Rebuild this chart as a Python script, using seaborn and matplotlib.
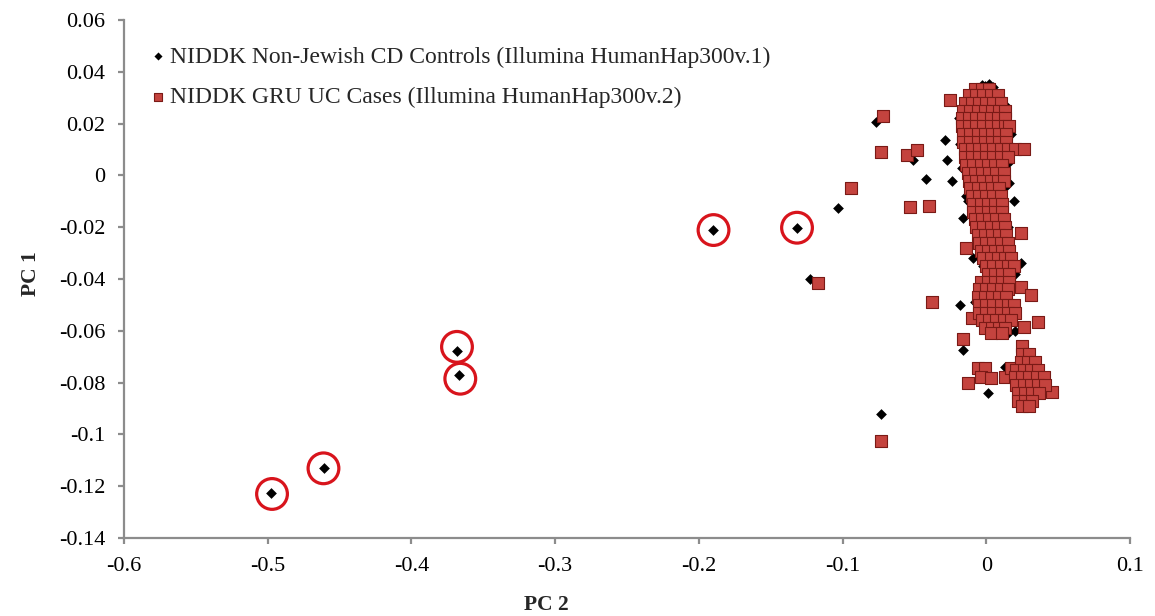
import matplotlib
matplotlib.use("Agg")
import matplotlib.pyplot as plt
import seaborn as sns
import pandas as pd

# ---------------- data ----------------
# Controls (black diamonds): PC2 (x), PC1 (y)
controls_pc2 = [-0.498, -0.461, -0.368, -0.367, -0.190, -0.132, -0.077, -0.103,
                -0.123, -0.0735, -0.0284, -0.051, -0.027, -0.042, -0.0236,
                -0.0125, -0.016, -0.009, -0.018, -0.0077, -0.016, 0.0014,
                0.013, 0.022, 0.015, 0.019, 0.012, 0.024,
                -0.003, 0.002, 0.005, -0.001, 0.010, 0.013, -0.017, -0.019,
                -0.018, -0.017, 0.017, 0.016, 0.016, 0.012, 0.010, 0.015,
                0.013, 0.019, 0.020, 0.005, 0.008, -0.002, 0.008, 0.020,
                -0.014, 0.003]
controls_pc1 = [-0.1225, -0.1131, -0.0677, -0.0769, -0.0211, -0.0202, 0.0208, -0.0127,
                -0.0400, -0.0920, 0.0135, 0.0058, 0.0058, -0.0012, -0.0023,
                -0.0097, -0.0166, -0.0320, -0.0500, -0.0490, -0.0675, -0.0840,
                -0.0740, -0.0726, -0.0610, -0.0097, -0.0046, -0.0340,
                0.0350, 0.0352, 0.0340, 0.0345, 0.0300, 0.0270, 0.0250, 0.0220,
                0.0120, 0.0030, 0.0160, 0.0050, -0.0030, -0.0050, -0.0080, -0.0200,
                -0.0260, -0.0360, -0.0380, -0.0240, -0.0300, -0.0350, -0.0600, -0.0600,
                -0.0080, -0.0270]

# Cases (red squares): isolated points
cases_pc2_outer = [-0.072, -0.073, -0.094, -0.117, -0.073, -0.025, -0.055, -0.0485,
                   -0.053, -0.040, -0.014, -0.038, 0.024, -0.0097, -0.016, 0.026,
                   0.036, 0.024, 0.031, -0.013, -0.006, -0.001, -0.004, 0.003,
                   0.013, 0.046, 0.017]
cases_pc1_outer = [0.0230, 0.0089, -0.0050, -0.0417, -0.1027, 0.0290, 0.0080, 0.0097,
                   -0.0123, -0.0120, -0.0280, -0.0487, -0.0224, -0.0552, -0.0630, -0.0587,
                   -0.0567, -0.0430, -0.0460, -0.0800, -0.0745, -0.0745, -0.0780, -0.0784,
                   -0.0780, -0.0838, -0.0745]

# Cases: dense cluster, row by row (PC1 value, PC2 values in that row)
case_cluster_rows = [
    (0.0335, [-0.008, -0.003, 0.002]),
    (0.031, [-0.012, -0.007, -0.002, 0.003, 0.008]),
    (0.028, [-0.015, -0.010, -0.005, 0.000, 0.005, 0.010]),
    (0.025, [-0.016, -0.011, -0.006, -0.001, 0.004, 0.009, 0.013]),
    (0.022, [-0.017, -0.012, -0.007, -0.002, 0.003, 0.008, 0.013]),
    (0.019, [-0.017, -0.012, -0.007, -0.002, 0.003, 0.008, 0.013, 0.016]),
    (0.016, [-0.016, -0.011, -0.006, -0.001, 0.004, 0.009, 0.014]),
    (0.013, [-0.016, -0.011, -0.006, -0.001, 0.004, 0.009, 0.014]),
    (0.010, [-0.015, -0.010, -0.005, 0.000, 0.005, 0.010, 0.015, 0.020, 0.026]),
    (0.007, [-0.015, -0.010, -0.005, 0.000, 0.005, 0.010, 0.015]),
    (0.004, [-0.014, -0.009, -0.004, 0.001, 0.006, 0.011]),
    (0.001, [-0.013, -0.008, -0.003, 0.002, 0.007, 0.012]),
    (-0.002, [-0.012, -0.007, -0.002, 0.003, 0.008, 0.012]),
    (-0.005, [-0.011, -0.006, -0.001, 0.004, 0.009]),
    (-0.008, [-0.010, -0.005, 0.000, 0.005, 0.010]),
    (-0.011, [-0.009, -0.004, 0.001, 0.006, 0.011]),
    (-0.014, [-0.009, -0.004, 0.001, 0.006, 0.011]),
    (-0.017, [-0.008, -0.003, 0.002, 0.007, 0.012]),
    (-0.020, [-0.007, -0.002, 0.003, 0.008, 0.013]),
    (-0.023, [-0.006, -0.001, 0.004, 0.009, 0.014]),
    (-0.026, [-0.005, 0.000, 0.005, 0.010, 0.015]),
    (-0.029, [-0.004, 0.001, 0.006, 0.011, 0.016]),
    (-0.032, [-0.002, 0.003, 0.008, 0.013, 0.017]),
    (-0.035, [0.000, 0.005, 0.010, 0.015, 0.019]),
    (-0.038, [0.001, 0.006, 0.011, 0.016]),
    (-0.041, [-0.004, 0.001, 0.006, 0.011, 0.016]),
    (-0.044, [-0.005, 0.000, 0.005, 0.010, 0.015]),
    (-0.047, [-0.006, -0.001, 0.004, 0.009, 0.014]),
    (-0.050, [-0.005, 0.000, 0.005, 0.010, 0.015, 0.019]),
    (-0.053, [-0.005, 0.000, 0.005, 0.010, 0.015, 0.020]),
    (-0.056, [-0.003, 0.002, 0.007, 0.012, 0.017]),
    (-0.059, [-0.001, 0.004, 0.009, 0.013]),
    (-0.061, [0.003, 0.011]),
    (-0.066, [0.025]),
    (-0.069, [0.025, 0.030]),
    (-0.072, [0.024, 0.029, 0.034]),
    (-0.075, [0.021, 0.026, 0.031, 0.036]),
    (-0.078, [0.020, 0.025, 0.030, 0.035, 0.040]),
    (-0.081, [0.021, 0.026, 0.031, 0.036, 0.041]),
    (-0.084, [0.022, 0.027, 0.032, 0.037]),
    (-0.087, [0.022, 0.027, 0.032]),
    (-0.089, [0.025, 0.030]),
]

# Red rings highlighting outliers
ring_pc2 = [-0.4970, -0.4612, -0.3683, -0.3660, -0.1898, -0.1317]
ring_pc1 = [-0.1230, -0.1131, -0.0662, -0.0785, -0.0211, -0.0202]

x_ticks = [-0.6, -0.5, -0.4, -0.3, -0.2, -0.1, 0, 0.1]
x_tick_labels = ["-0.6", "-0.5", "-0.4", "-0.3", "-0.2", "-0.1", "0", "0.1"]
y_ticks = [0.06, 0.04, 0.02, 0, -0.02, -0.04, -0.06, -0.08, -0.1, -0.12, -0.14]
y_tick_labels = ["0.06", "0.04", "0.02", "0", "-0.02", "-0.04", "-0.06", "-0.08",
                 "-0.1", "-0.12", "-0.14"]

label_controls = "NIDDK Non-Jewish CD Controls (Illumina HumanHap300v.1)"
label_cases = "NIDDK GRU UC Cases (Illumina HumanHap300v.2)"

# ---------------- build tables ----------------
cases_pc2 = list(cases_pc2_outer)
cases_pc1 = list(cases_pc1_outer)
for yv, xs in case_cluster_rows:
    for xv in xs:
        cases_pc2.append(xv)
        cases_pc1.append(yv)

df_controls = pd.DataFrame({"PC 2": controls_pc2, "PC 1": controls_pc1})
df_cases = pd.DataFrame({"PC 2": cases_pc2, "PC 1": cases_pc1})

# ---------------- plot ----------------
sns.set_theme(style="white")
plt.rcParams["font.family"] = ["Liberation Serif", "DejaVu Serif"]

fig = plt.figure(figsize=(11.55, 6.16), dpi=100)
ax = fig.add_axes([124 / 1155, 1 - 538 / 616, (1130 - 124) / 1155, (538 - 20) / 616])

sns.scatterplot(data=df_controls, x="PC 2", y="PC 1", ax=ax, marker="D", s=30,
                color="black", linewidth=0, label=label_controls, zorder=2)
sns.scatterplot(data=df_cases, x="PC 2", y="PC 1", ax=ax, marker="s", s=64,
                color="#c4433e", edgecolor="#7a1a16", linewidth=0.8,
                label=label_cases, zorder=3)
ax.scatter(ring_pc2, ring_pc1, s=490, marker="o", facecolors="none",
           edgecolors="#d8141c", linewidths=2.3, zorder=4)

ax.set_xlim(-0.6, 0.1)
ax.set_ylim(-0.14, 0.06)
ax.set_xticks(x_ticks)
ax.set_xticklabels(x_tick_labels)
ax.set_yticks(y_ticks)
ax.set_yticklabels(y_tick_labels)

for side in ["top", "right"]:
    ax.spines[side].set_visible(False)
for side in ["left", "bottom"]:
    ax.spines[side].set_color("#8c8c8c")
    ax.spines[side].set_linewidth(1.6)
ax.tick_params(axis="both", which="both", direction="out", length=4.5, width=1.6,
               color="#8c8c8c", labelsize=16, labelcolor="black", pad=9,
               left=True, bottom=True)

ax.set_xlabel("PC 2", fontsize=15.5, fontweight="bold")
ax.set_ylabel("PC 1", fontsize=15.5, fontweight="bold")
ax.xaxis.set_label_coords(0.42, -0.11)
ax.yaxis.set_label_coords(-0.083, 0.51)

leg = ax.legend(loc="upper left", bbox_to_anchor=(0.008, 0.977), frameon=False,
                fontsize=17, handletextpad=0.0, labelspacing=0.8,
                handlelength=1.0, borderaxespad=0.2, markerscale=0.75)

fig.savefig("out.png", dpi=100)
